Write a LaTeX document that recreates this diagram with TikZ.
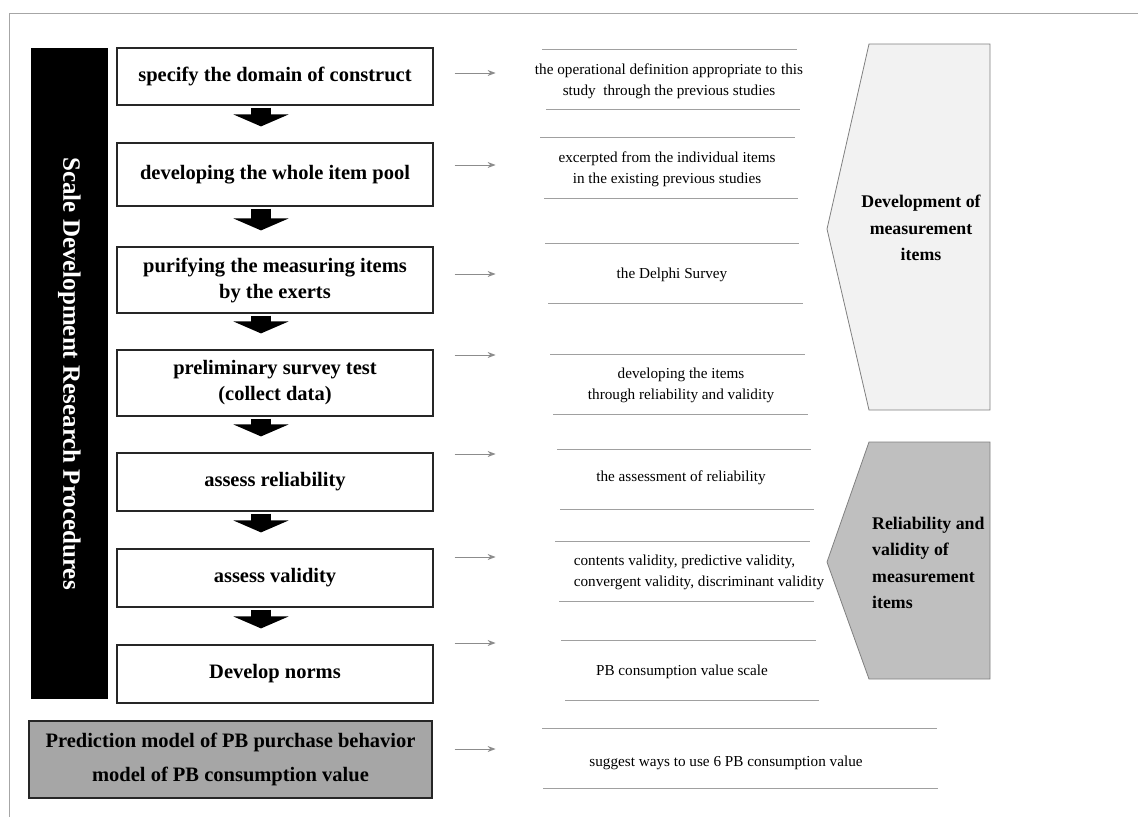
\documentclass[tikz,border=0pt]{standalone}
\usepackage{fontspec}
\setmainfont{Liberation Serif}
\usetikzlibrary{arrows.meta, positioning}

\definecolor{framegray}{HTML}{A6A6A6}
\definecolor{rulegray}{HTML}{A0A0A0}
\definecolor{ptrgray}{HTML}{8C8C8C}
\definecolor{darkfill}{HTML}{A6A6A6}
\definecolor{lightfill}{HTML}{F2F2F2}
\definecolor{midfill}{HTML}{BFBFBF}

\begin{document}
\begin{tikzpicture}[
    x=1pt, y=-1pt, % 1 unit = 1 pixel of the layout
    stepbox/.style={
      rectangle,
      draw=black!85,
      line width=1.2pt,
      fill=white,
      minimum width=316pt,
      inner sep=0pt,
      align=center,
      font=\fontsize{20.5}{26}\selectfont\bfseries
    },
    modelbox/.style={
      stepbox,
      fill=darkfill,
      minimum width=403pt,
      font=\fontsize{20.5}{34}\selectfont\bfseries
    },
    sidebar/.style={
      rectangle,
      fill=black,
      text=white,
      rotate=-90,
      minimum width=651pt,
      minimum height=77pt,
      font=\fontsize{25}{30}\selectfont\bfseries
    },
    note/.style={
      align=center,
      inner sep=0pt,
      font=\fontsize{15.2}{21}\selectfont
    },
    tagshape/.style={
      draw=gray,
      line width=0.8pt
    },
    tagtext/.style={
      inner sep=0pt,
      font=\fontsize{17.8}{26.5}\selectfont\bfseries
    },
    blockarrow/.style={
      line width=20pt,
      -{Triangle[length=12pt, width=55pt]},
      shorten <=2pt,
      shorten >=16pt
    },
    ptr/.style={
      draw=ptrgray,
      line width=1pt,
      -{Stealth[length=8pt, width=6pt]}
    },
    rule/.style={
      draw=rulegray,
      line width=0.9pt
    }
  ]

  \useasboundingbox (0,0) rectangle (1138,817);

  % Frame - top and left edge only
  \draw[framegray, line width=1pt] (1138,13) -- (9,13) -- (9,817);

  % Side bar
  \node[sidebar] (bar) at (69.5,373.5) {Scale Development Research Procedures};

  % Steps
  \node[stepbox, minimum height=57pt] (domain) at (275,76.5) {specify the domain of construct};
  \node[stepbox, minimum height=63pt] (pool) at (275,174.5) {developing the whole item pool};
  \node[stepbox, minimum height=66pt] (purify) at (275,280) {purifying the measuring items\\by the exerts};
  \node[stepbox, minimum height=66pt] (survey) at (275,383) {preliminary survey test\\(collect data)};
  \node[stepbox, minimum height=58pt] (reliab) at (275,482) {assess reliability};
  \node[stepbox, minimum height=58pt] (valid) at (275,578) {assess validity};
  \node[stepbox, minimum height=58pt] (norms) at (275,674) {Develop norms};
  \node[modelbox, minimum height=77pt] (model) at (230.5,759.5) {Prediction model of PB purchase behavior\\model of PB consumption value};

  % Block arrows between the steps
  \draw[blockarrow] ([xshift=-14pt]domain.south) -- ([xshift=-14pt]pool.north);
  \draw[blockarrow] ([xshift=-14pt]pool.south) -- ([xshift=-14pt]purify.north);
  \draw[blockarrow] ([xshift=-14pt]purify.south) -- ([xshift=-14pt]survey.north);
  \draw[blockarrow] ([xshift=-14pt]survey.south) -- ([xshift=-14pt]reliab.north);
  \draw[blockarrow] ([xshift=-14pt]reliab.south) -- ([xshift=-14pt]valid.north);
  \draw[blockarrow] ([xshift=-14pt]valid.south) -- ([xshift=-14pt]norms.north);

  % Small pointers to the notes
  \draw[ptr] ([xshift=21pt, yshift=3.5pt]domain.east) -- ++(41,0);
  \draw[ptr] ([xshift=21pt, yshift=9.5pt]pool.east) -- ++(41,0);
  \draw[ptr] ([xshift=21pt, yshift=6pt]purify.east) -- ++(41,0);
  \draw[ptr] ([xshift=21pt, yshift=28pt]survey.east) -- ++(41,0);
  \draw[ptr] ([xshift=21pt, yshift=28pt]reliab.east) -- ++(41,0);
  \draw[ptr] ([xshift=21pt, yshift=21pt]valid.east) -- ++(41,0);
  \draw[ptr] ([xshift=21pt, yshift=31pt]norms.east) -- ++(41,0);
  \draw[ptr] ([xshift=22pt, yshift=10.5pt]model.east) -- ++(41,0);

  % Notes
  \node[note] (defn) at (669,81.5) {the operational definition appropriate to this\\study\ \ through the previous studies};
  \node[note] (excerpt) at (667,169) {excerpted from the individual items\\in the existing previous studies};
  \node[note] (delphi) at (672,275) {the Delphi Survey};
  \node[note] (develop) at (681,385) {developing the items\\through reliability and validity};
  \node[note] (assess) at (681,478) {the assessment of reliability};
  \node[note, align=left] (kinds) at (699,572.5) {contents validity, predictive validity,\\convergent validity, discriminant validity};
  \node[note] (scale) at (682,672) {PB consumption value scale};
  \node[note] (ways) at (726,763) {suggest ways to use 6 PB consumption value};

  % Rules above and below the notes
  \draw[rule] (542,49) -- (797,49);   \draw[rule] (546,109) -- (800,109);
  \draw[rule] (540,137) -- (795,137); \draw[rule] (544,198) -- (798,198);
  \draw[rule] (545,243) -- (799,243); \draw[rule] (548,303) -- (803,303);
  \draw[rule] (550,354) -- (805,354); \draw[rule] (553,414) -- (808,414);
  \draw[rule] (557,449) -- (811,449); \draw[rule] (560,509) -- (814,509);
  \draw[rule] (555,541) -- (810,541); \draw[rule] (559,601) -- (814,601);
  \draw[rule] (561,640) -- (816,640); \draw[rule] (565,700) -- (819,700);
  \draw[rule] (542,728) -- (937,728); \draw[rule] (543,788) -- (938,788);

  % Stage tags
  \draw[tagshape, fill=lightfill] (869,44) -- (990,44) -- (990,410) -- (869,410) -- (827,229) -- cycle;
  \node[tagtext, align=center] (devtag) at (921,228) {Development of\\measurement\\items};
  \draw[tagshape, fill=midfill] (869,442) -- (990,442) -- (990,679) -- (869,679) -- (827,562) -- cycle;
  \node[tagtext, align=left, anchor=west] (reltag) at (872,563) {Reliability and\\validity of\\measurement\\items};

\end{tikzpicture}
\end{document}
